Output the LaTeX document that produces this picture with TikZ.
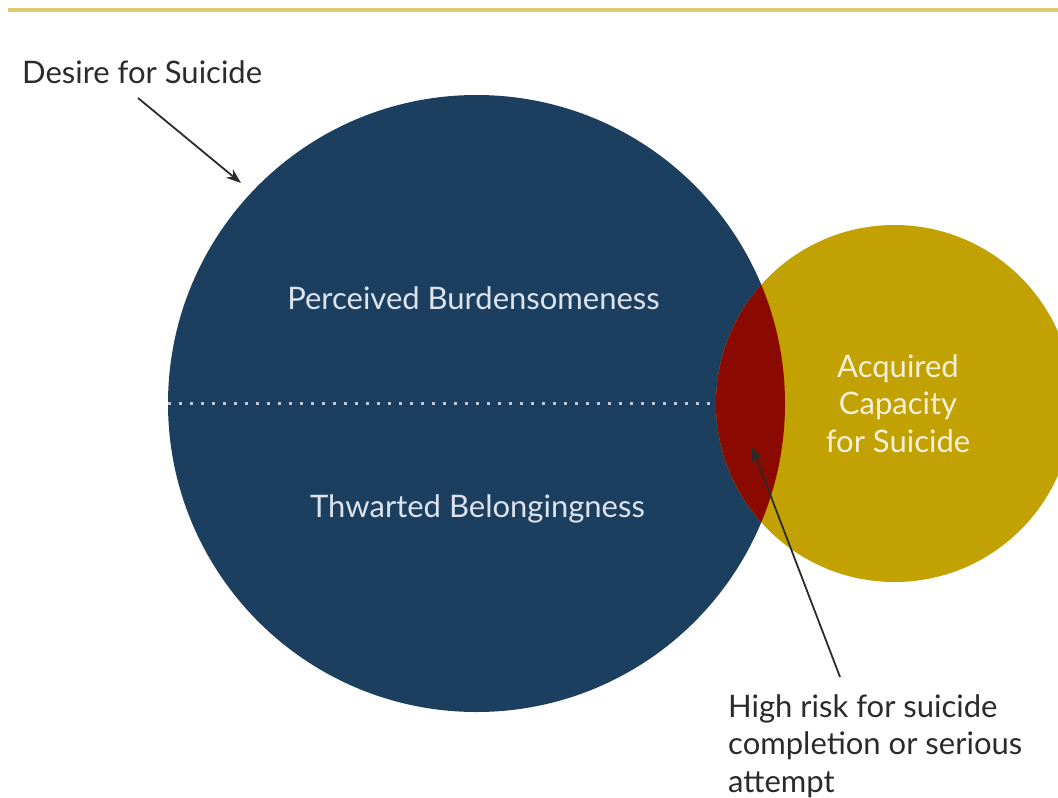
\documentclass[tikz,border=0pt]{standalone}
\usepackage{fontspec}
\setmainfont{Lato}
\usetikzlibrary{arrows.meta}
\definecolor{navy}{HTML}{1C3F60}
\definecolor{mustard}{HTML}{C2A203}
\definecolor{overlapred}{HTML}{8A0A02}
\definecolor{rulegold}{HTML}{E0CA70}
\definecolor{inkgray}{HTML}{2B2B2B}
\definecolor{paleblue}{HTML}{DCE3EC}
\definecolor{palegold}{HTML}{F6F0DA}
\tikzset{
  lbl/.style={font=\fontsize{31}{37.5}\selectfont, inner sep=0pt},
  pointer/.style={draw=inkgray, line width=1.8pt, -{Stealth[length=15pt, width=11pt]}},
}
\begin{document}
\begin{tikzpicture}[x=1pt, y=-1pt]
\useasboundingbox (0,0) rectangle (1058,798);
% top rule
\draw[rulegold, line width=3.5pt] (8,10) -- (1058,10);
% the two circles
\node[circle, fill=navy, minimum size=617pt, inner sep=0pt] (desire) at (476.5,403.5) {};
\node[circle, fill=mustard, minimum size=357pt, inner sep=0pt] (capacity) at (894.5,403.5) {};
% overlap of the two circles
\begin{scope}
  \clip (894.5,403.5) circle (178.5pt);
  \fill[overlapred] (476.5,403.5) circle (308.5pt);
\end{scope}
% dotted divider across the desire circle
\draw[paleblue!85!navy, line width=3pt, dash pattern=on 3.5pt off 7.5pt] (desire.west) -- (716,403.5);
% labels
\node[lbl, anchor=base west, text=inkgray] (desirelbl) at (22,83) {Desire for Suicide};
\node[lbl, anchor=base, text=paleblue] (burden) at (473.5,309) {Perceived Burdensomeness};
\node[lbl, anchor=base, text=paleblue] (belong) at (477.5,517) {Thwarted Belongingness};
\node[lbl, anchor=north, align=center, text=palegold] (acq) at (898,354) {Acquired\\Capacity\\for Suicide};
\node[lbl, anchor=north west, align=left, text=inkgray] (risk) at (728,694) {High risk for suicide\\completion or serious\\attempt};
% pointers
\coordinate (desiretail) at (138,98);
\coordinate (desiretip) at (241,183);
\coordinate (risktail) at (840,677);
\coordinate (risktip) at (752,447);
\draw[pointer] (desiretail) -- (desiretip);
\draw[pointer] (risktail) -- (risktip);
\end{tikzpicture}
\end{document}
